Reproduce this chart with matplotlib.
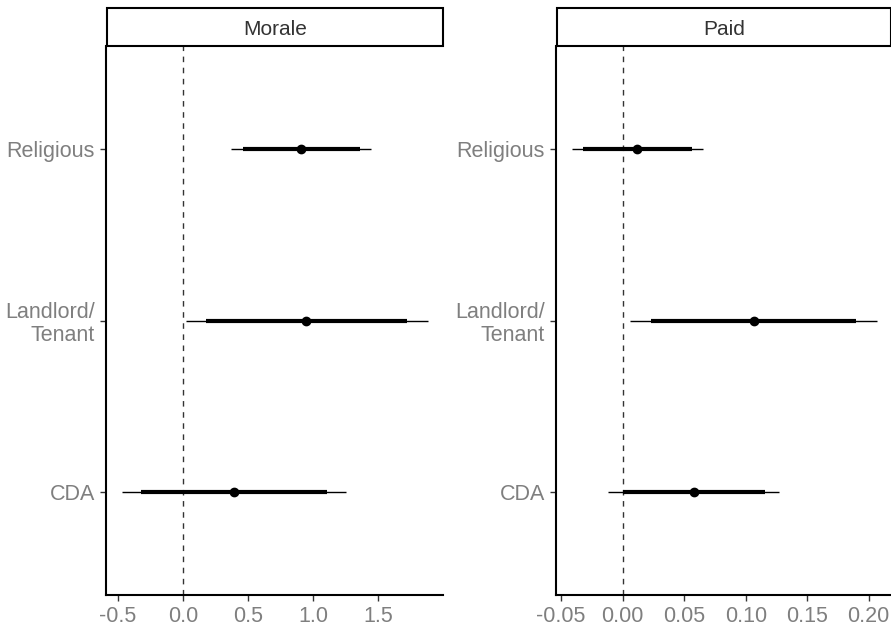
import matplotlib

matplotlib.use("Agg")
import matplotlib.pyplot as plt  # noqa: E402
from matplotlib.patches import Rectangle  # noqa: E402

plt.rcParams["font.family"] = ["Liberation Sans", "DejaVu Sans"]

categories = ["CDA", "Landlord/\nTenant", "Religious"]
panels = ["Morale", "Paid"]

# Morale estimates (CDA, Landlord/Tenant, Religious)
morale_est = [0.39, 0.95, 0.91]
morale_lo80 = [-0.325, 0.18, 0.46]
morale_hi80 = [1.105, 1.725, 1.36]
morale_lo95 = [-0.47, 0.02, 0.37]
morale_hi95 = [1.255, 1.885, 1.45]

# Paid estimates
paid_est = [0.058, 0.107, 0.012]
paid_lo80 = [0.0, 0.023, -0.0325]
paid_hi80 = [0.116, 0.190, 0.0565]
paid_lo95 = [-0.012, 0.006, -0.0415]
paid_hi95 = [0.127, 0.207, 0.0655]

morale_ticks = [-0.5, 0.0, 0.5, 1.0, 1.5]
morale_ticklabels = ["-0.5", "0.0", "0.5", "1.0", "1.5"]
paid_ticks = [-0.05, 0.0, 0.05, 0.10, 0.15, 0.20]
paid_ticklabels = ["-0.05", "0.00", "0.05", "0.10", "0.15", "0.20"]

W, H = 891, 628
fig = plt.figure(figsize=(W / 100, H / 100), dpi=100)

panel_specs = [
    (panels[0], morale_est, morale_lo80, morale_hi80, morale_lo95, morale_hi95,
     morale_ticks, morale_ticklabels, (-0.592, 2.0), 106, 443),
    (panels[1], paid_est, paid_lo80, paid_hi80, paid_lo95, paid_hi95,
     paid_ticks, paid_ticklabels, (-0.0542, 0.2181), 556, 891),
]

top_px, bot_px, strip_top = 46, 595, 8
for name, est, lo80, hi80, lo95, hi95, ticks, tlabels, xlim, x0, x1 in panel_specs:
    ax = fig.add_axes([x0 / W, 1 - bot_px / H, (x1 - x0) / W, (bot_px - top_px) / H])
    ys = list(range(1, len(categories) + 1))
    ax.axvline(0, color="#333333", lw=1.0, ls=(0, (4, 4)), zorder=1)
    ax.hlines(ys, lo95, hi95, color="black", lw=1.0, zorder=2)
    ax.hlines(ys, lo80, hi80, color="black", lw=3.0, zorder=3)
    ax.plot(est, ys, "o", color="black", ms=6, zorder=4)
    ax.set_xlim(*xlim)
    ax.set_ylim(0.4, 3.6)
    ax.set_yticks(ys)
    ax.set_yticklabels(categories, ha="right", linespacing=1.15)
    ax.set_xticks(ticks)
    ax.set_xticklabels(tlabels)
    ax.tick_params(colors="#333333", labelcolor="#7F7F7F", labelsize=15.5,
                   length=4, width=1.0, pad=4)
    for s in ["top", "right"]:
        ax.spines[s].set_visible(False)
    for s in ["left", "bottom"]:
        ax.spines[s].set_linewidth(1.5)
        ax.spines[s].set_color("black")

    # facet strip
    sx0 = (x0 + 1) / W
    sw = (x1 - x0 - 1) / W
    sy0 = 1 - top_px / H
    sh = (top_px - strip_top) / H
    fig.patches.append(Rectangle((sx0, sy0), sw, sh, transform=fig.transFigure,
                                 facecolor="white", edgecolor="black", lw=1.5,
                                 figure=fig))
    fig.text(sx0 + sw / 2, sy0 + sh / 2 - 2.5 / H, name, ha="center", va="center",
             fontsize=15, color="#333333")

fig.savefig("out.png", dpi=100)
plt.close(fig)
